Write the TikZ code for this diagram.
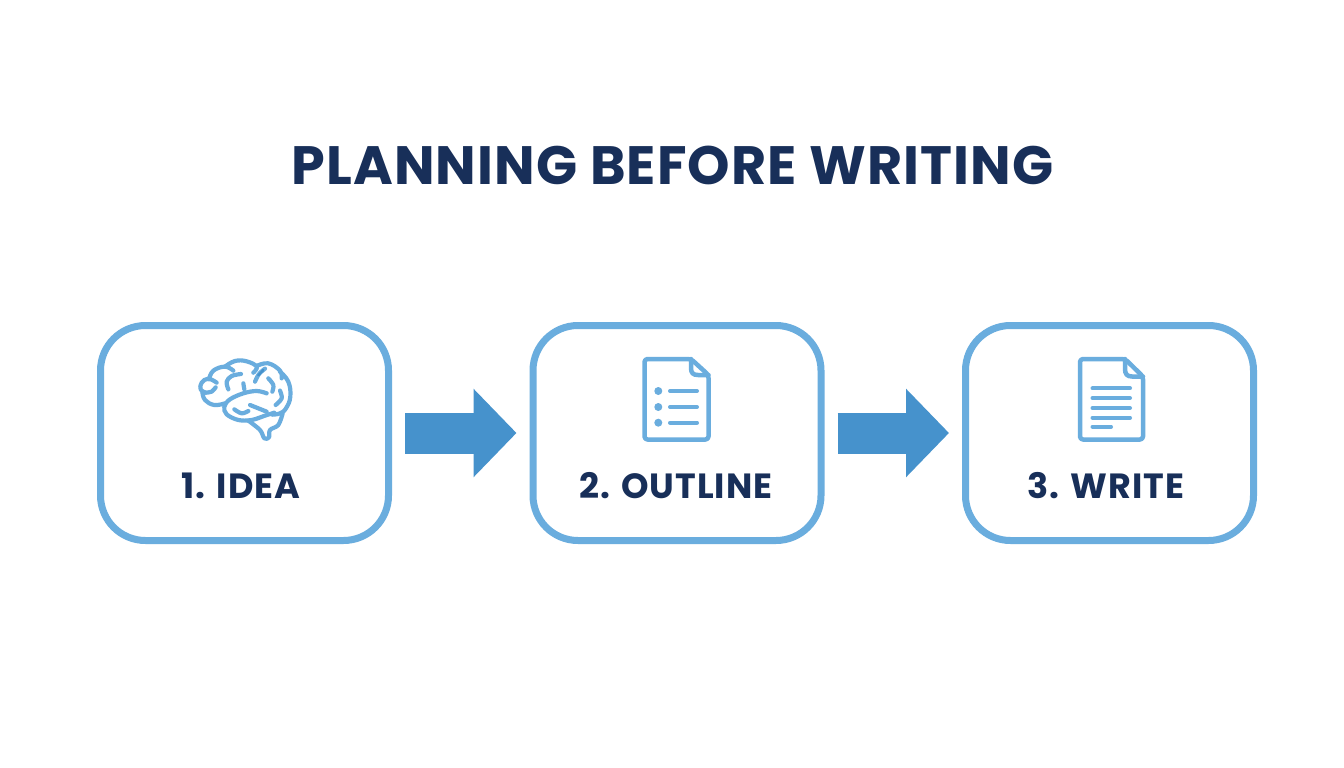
\documentclass[tikz,border=0pt]{standalone}
\usepackage{fontspec}
\setmainfont{Poppins}
\usetikzlibrary{arrows.meta}
\definecolor{edgeblue}{HTML}{6AADDE}
\definecolor{arrowblue}{HTML}{4692CC}
\definecolor{navy}{HTML}{182F59}
\tikzset{
  card/.style={draw=edgeblue,line width=7pt,fill=white,rounded corners=45pt,minimum width=288pt,minimum height=215pt,inner sep=0pt},
  flow/.style={draw=arrowblue,line width=41pt,-{Triangle[length=43pt,width=86pt,fill=arrowblue]}},
  label/.style={font=\fontsize{35pt}{35pt}\selectfont\bfseries\addfontfeature{LetterSpace=2.8},text=navy,inner sep=0pt,anchor=center},
  title/.style={font=\fontsize{54pt}{54pt}\selectfont\bfseries\addfontfeature{LetterSpace=2},text=navy,inner sep=0pt,anchor=center},
  ico/.style={draw=edgeblue,line width=4.5pt,line cap=round,line join=round},
  thin/.style={draw=edgeblue,line width=4pt,line cap=round},
  br/.style={draw=edgeblue,line width=4.2pt,line cap=round,line join=round},
}
\begin{document}
\begin{tikzpicture}[x=1pt,y=-1pt]
\useasboundingbox[fill=white] (0,0) rectangle (1344,768);
\node[title] (head) at (672.5,165) {PLANNING BEFORE WRITING};
\node[card] (a) at (244.5,433) {};
\node[card] (b) at (677,433) {};
\node[card] (c) at (1109.5,433) {};
\draw[flow] ([xshift=13pt]a.east) -- ([xshift=-13pt]b.west);
\draw[flow] ([xshift=13pt]b.east) -- ([xshift=-13pt]c.west);
\node[label] (la) at (241,486) {1. IDEA};
\node[label] (lb) at (676,486) {2. OUTLINE};
\node[label] (lc) at (1106,486) {3. WRITE};
% brain
\begin{scope}[shift={(185,350)},x=0.3333pt,y=-0.3333pt]
% upper outline, lobe by lobe
\draw[br] plot[smooth,tension=0.7] coordinates {(95,98) (70,86) (50,98) (47,118) (62,128)};
\draw[br] plot[smooth,tension=0.7] coordinates {(52,125) (60,150) (88,165) (120,160)};
\draw[br] plot[smooth,tension=0.7] coordinates {(72,88) (85,62) (120,50) (145,62)};
\draw[br] plot[smooth,tension=0.7] coordinates {(120,50) (150,33) (185,34) (215,50) (205,68)};
\draw[br] plot[smooth,tension=0.7] coordinates {(215,48) (250,40) (285,62) (290,85)};
\draw[br] plot[smooth,tension=0.7] coordinates {(285,65) (310,95) (316,140) (303,175) (285,190) (262,194)};
\draw[br] plot[smooth,tension=0.6] coordinates {(62,128) (80,125) (92,112)};
% lower fold
\draw[br] plot[smooth,tension=0.6] coordinates {(245,130) (215,123) (175,130) (135,148) (118,170) (125,193) (160,210) (200,210) (240,197) (268,188)};
% stem
\draw[br] plot[smooth,tension=0.6] coordinates {(190,212) (225,240) (238,265) (252,262) (255,240) (280,225) (293,190)};
% inner folds
\draw[br] plot[smooth,tension=0.6] coordinates {(130,118) (125,95) (140,78) (168,72)};
\draw[br] (175,100) -- (178,118);
\draw[br] plot[smooth,tension=0.6] coordinates {(210,95) (222,72) (240,56)};
\draw[br] plot[smooth,tension=0.6] coordinates {(250,85) (265,105) (262,125)};
\draw[br] plot[smooth,tension=0.6] coordinates {(285,122) (290,145) (272,165)};
\draw[br] plot[smooth,tension=0.6] coordinates {(148,178) (170,190) (190,183)};
\draw[br] plot[smooth,tension=0.6] coordinates {(195,165) (220,175) (245,185)};
\draw[draw=arrowblue,line width=2.4pt,line cap=round] (220,76) -- (235,60);
\end{scope}
% outline document
\draw[ico,rounded corners=3pt] (691,359) -- (644.5,359) -- (644.5,439.5) -- (708.5,439.5) -- (708.5,375) -- cycle;
\draw[ico] (691,359) -- (691,368) .. controls (691,373) and (693,375) .. (698,375) -- (708.5,375);
\foreach \y in {391,407,422.7} {
  \fill[edgeblue] (658.3,\y) circle[radius=4pt];
  \draw[thin] (670,\y) -- (697,\y);
}
% text document
\draw[ico,rounded corners=3pt] (1125,359) -- (1080,359) -- (1080,439.5) -- (1143,439.5) -- (1143,376.5) -- cycle;
\draw[ico] (1125,359) -- (1125,369) .. controls (1125,374) and (1127,376.5) .. (1132,376.5) -- (1143,376.5);
\foreach \y in {388.3,398,408,417.7} { \draw[thin] (1092.5,\y) -- (1130,\y); }
\draw[thin] (1092.5,426.7) -- (1111,426.7);
\end{tikzpicture}
\end{document}
